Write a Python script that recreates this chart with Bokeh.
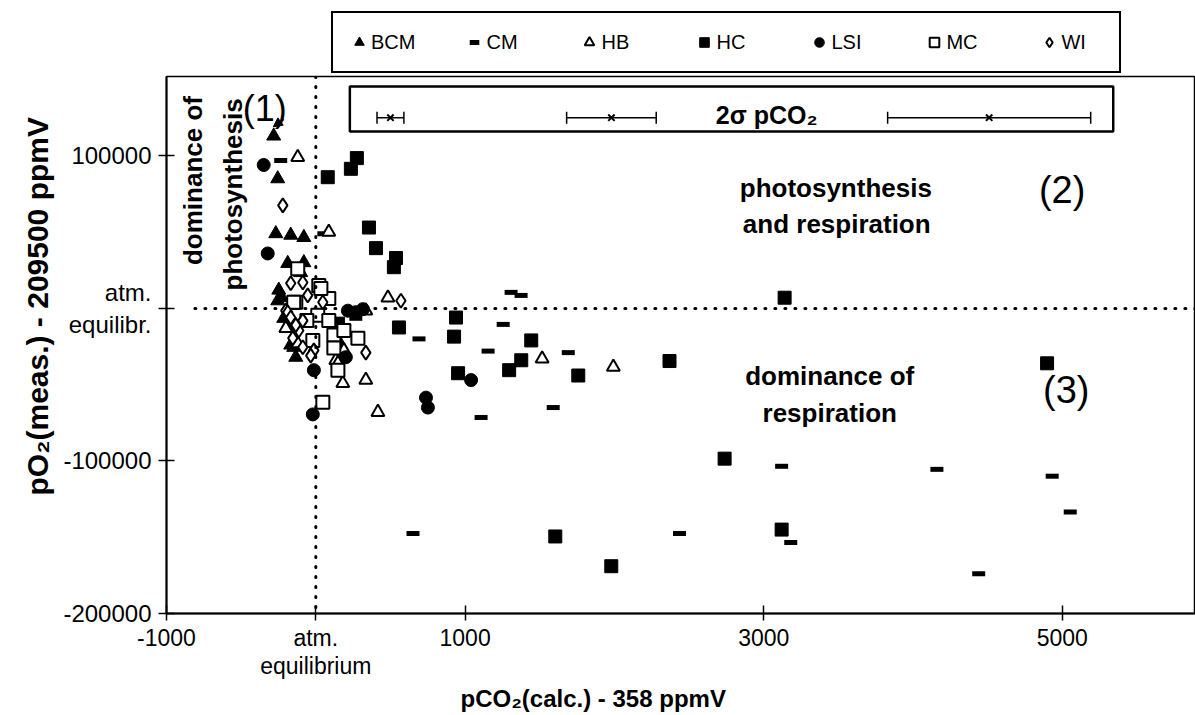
import math
from bokeh.plotting import figure
from bokeh.layouts import column
from bokeh.models import (ColumnDataSource, Legend, LegendItem, Label, Span, BoxAnnotation,
                          Whisker, TeeHead, Arrow, NormalHead, FixedTicker, Title)
from bokeh.embed import file_html
from bokeh.resources import INLINE

# ---------------- data ----------------
bcm_x = [-282, -255, -268, -168, -80, -188, -80, -248, -255, -228, -188, -148, -134, -168, -215, -101, 168]
bcm_y = [113000, 85000, 49000, 48000, 46500, 29500, 30000, 12000, 5000, 7000, -12500, -25500, -32000, -24000, -6500, 23500, -24000]

cm_x = [-235, 54, 268, 691, 1308, 1375, 1255, 1154, 1691, 1107, 1590, 651, 2436, 3120, 3181, 4160, 4440, 4932, 5053]
cm_y = [97000, 49000, -6500, -20000, 10500, 8500, -10500, -28000, -29000, -71500, -65000, -147500, -147500, -103500, -153500, -105500, -174000, -110000, -133500]

hb_x = [-121, 87, 483, 335, 188, 134, 181, 335, 416, 1516, 1993, -201, -121, 148]
hb_y = [99000, 50000, 7000, -1500, -27500, -34000, -49000, -47000, -68000, -33000, -38500, -13000, -23000, -36000]

hc_x = [80, 235, 275, 356, 403, 537, 523, 557, 939, 926, 953, 1443, 1376, 1295, 1758, 2369, 3140, 4898, 2738, 1604, 3120, 1979, 148]
hc_y = [86000, 91500, 98500, 53000, 39500, 33000, 27000, -12500, -6000, -18500, -42500, -21000, -34000, -40500, -44000, -34500, 7000, -36000, -98500, -149500, -145000, -169000, -10000]

lsi_x = [-349, -322, 215, 268, 315, -13, -20, 738, 751, 1040, 201]
lsi_y = [94000, 36000, -1500, -2500, -500, -40500, -69500, -58500, -65000, -47000, -32000]

mc_x = [-121, -134, 20, 87, 34, 13, 87, 121, 188, 282, 121, 148, 47, -148, -60, -20]
mc_y = [26000, 4000, 15000, 6500, 13000, -4500, -8000, -17500, -14500, -19500, -26000, -40500, -61500, 4000, -8000, -21000]

wi_x = [-221, 570, -168, -87, 47, -201, -188, -168, -87, -154, -13, -87, -34, 335, -114, -54, -134]
wi_y = [67500, 5000, 16500, 17000, 4000, -1500, -2500, -6000, -8000, -19500, -27500, -25500, -31000, -29000, -14500, 8500, -11000]

series_names = ["BCM", "CM", "HB", "HC", "LSI", "MC", "WI"]

# 2 sigma pCO2 error examples
sigma_center = [500, 1980, 4510]
sigma_2 = [90, 300, 680]

x_ticks = [-1000, 0, 1000, 3000, 5000]
x_tick_labels = ["-1000", "atm.\nequilibrium", "1000", "3000", "5000"]
y_ticks = [100000, 0, -100000, -200000]
y_tick_labels = ["100000", "atm.\nequilibr.", "-100000", "-200000"]

FONT = "Liberation Sans"

STYLES = {
    "BCM": dict(marker="triangle", size=14, fill_color="black", line_color="black"),
    "CM": dict(marker="dash", size=13, line_color="black", line_width=5),
    "HB": dict(marker="triangle", size=13, fill_color="white", line_color="black", line_width=2),
    "HC": dict(marker="square", size=13, fill_color="black", line_color="black"),
    "LSI": dict(marker="circle", size=13, fill_color="black", line_color="black"),
    "MC": dict(marker="square", size=13, fill_color="white", line_color="black", line_width=2),
    "WI": dict(marker="diamond", size=14, fill_color="white", line_color="black", line_width=2),
}
DATA = {"BCM": (bcm_x, bcm_y), "CM": (cm_x, cm_y), "HB": (hb_x, hb_y), "HC": (hc_x, hc_y),
        "LSI": (lsi_x, lsi_y), "MC": (mc_x, mc_y), "WI": (wi_x, wi_y)}

# ---------------- main figure ----------------
p = figure(width=1195, height=640, x_range=(-1000, 5892), y_range=(-200000, 152000),
           output_backend="svg", toolbar_location=None,
           min_border_left=166, min_border_right=0, min_border_top=1, min_border_bottom=102)
p.background_fill_color = "white"
p.border_fill_color = "white"
p.xgrid.visible = False
p.ygrid.visible = False
p.outline_line_color = "black"
p.outline_line_width = 1.5

for ax in (p.xaxis[0], p.yaxis[0]):
    ax.axis_line_width = 2
    ax.axis_line_color = "black"
    ax.major_tick_line_color = "black"
    ax.major_tick_line_width = 1.5
    ax.major_tick_in = 8
    ax.major_tick_out = 8
    ax.minor_tick_line_color = None
    ax.major_label_text_font = FONT
    ax.major_label_text_font_size = "24px"
    ax.major_label_text_color = "black"
    ax.major_label_standoff = 7

p.xaxis[0].major_label_text_font_size = "23px"
p.xaxis[0].major_label_standoff = 4
p.xaxis[0].major_tick_out = 7
p.xaxis[0].major_label_text_line_height = 1.1

p.xaxis[0].ticker = FixedTicker(ticks=x_ticks)
p.yaxis[0].ticker = FixedTicker(ticks=y_ticks)
p.xaxis[0].major_label_overrides = dict(zip(x_ticks, x_tick_labels))
p.yaxis[0].major_label_overrides = dict(zip(y_ticks, y_tick_labels))

# axis titles
p.add_layout(Title(text="pO₂(meas.) - 209500 ppmV", align="left", offset=118, standoff=14,
                   text_font=FONT, text_font_style="bold", text_font_size="30px",
                   text_color="black"), "left")
p.add_layout(Title(text="pCO₂(calc.) - 358 ppmV", align="left", offset=294, standoff=0,
                   text_font=FONT, text_font_style="bold", text_font_size="24px",
                   text_color="black"), "below")

# dotted reference lines at atmospheric equilibrium
ATM_X = 0
ATM_Y = 0
p.add_layout(Span(location=ATM_X, dimension="height", line_color="black", line_width=3,
                  line_dash="1 9", line_cap="round"))
p.segment(x0=[-810], y0=[ATM_Y], x1=[5892], y1=[ATM_Y], line_color="black", line_width=3,
          line_dash="1 9", line_cap="round")

# ---------------- series ----------------
for name in series_names:
    xs, ys = DATA[name]
    p.scatter(xs, ys, **STYLES[name])

# ---------------- 2 sigma box ----------------
p.add_layout(BoxAnnotation(left=228, right=5341, bottom=115900, top=145400, fill_color="white",
                           fill_alpha=1, line_color="black", line_alpha=1, line_width=2.5,
                           level="underlay"))
SIG_Y = 125000
sig_src = ColumnDataSource(dict(
    base=[SIG_Y] * len(sigma_center),
    x=sigma_center,
    lower=[c - e for c, e in zip(sigma_center, sigma_2)],
    upper=[c + e for c, e in zip(sigma_center, sigma_2)],
))
p.add_layout(Whisker(source=sig_src, base="base", lower="lower", upper="upper", dimension="width",
                     line_color="black", line_width=1.5, level="overlay",
                     lower_head=TeeHead(size=12, line_width=1.5, line_color="black"),
                     upper_head=TeeHead(size=12, line_width=1.5, line_color="black")))
p.scatter(x="x", y="base", source=sig_src, marker="x", size=9, line_color="black", line_width=2)

# ---------------- annotations in the plot ----------------
def lab(x, y, text, size, bold=True, angle=0.0):
    p.add_layout(Label(x=x, y=y, text=text, text_font=FONT,
                       text_font_style="bold" if bold else "normal", text_font_size=size,
                       text_align="center", text_baseline="middle", angle=angle,
                       text_color="black"))

lab(3020, 127000, "2σ pCO₂", "25px")
lab(-825, 83800, "dominance of", "26px", angle=math.pi / 2)
lab(-557, 74700, "photosynthesis", "26px", angle=math.pi / 2)
lab(-342, 131000, "(1)", "36px", bold=False)
p.add_layout(Arrow(x_start=-215, y_start=124000, x_end=-285, y_end=119000, line_width=2,
                   line_color="black", end=NormalHead(size=9, fill_color="black", line_color="black")))
lab(3483, 78600, "photosynthesis", "26px")
lab(3489, 55000, "and respiration", "26px")
lab(4999, 77300, "(2)", "38px", bold=False)
lab(3442, -44500, "dominance of", "26px")
lab(3442, -68800, "respiration", "26px")
lab(5026, -53700, "(3)", "38px", bold=False)

# ---------------- legend strip above the plot ----------------
leg = figure(width=1195, height=75, x_range=(0, 1), y_range=(0, 1), output_backend="svg",
             toolbar_location=None, min_border=0)
leg.axis.visible = False
leg.xgrid.visible = False
leg.ygrid.visible = False
leg.outline_line_color = None
leg.background_fill_color = "white"
leg.border_fill_color = "white"
items = []
for name in series_names:
    r = leg.scatter([-5], [-5], **STYLES[name])   # key glyphs only (outside view)
    items.append(LegendItem(label=name, renderers=[r]))
legend = Legend(items=items, orientation="horizontal", location=(165, 2), glyph_width=24,
                glyph_height=30, label_standoff=0, label_width=44, spacing=47, padding=14, margin=0,
                border_line_color="black", border_line_width=2, border_line_alpha=1,
                background_fill_color="white", background_fill_alpha=1, label_text_font=FONT,
                label_text_font_size="20px", label_text_color="black")
leg.add_layout(legend)

layout = column(leg, p, spacing=0)
open("out.html", "w").write(file_html(layout, INLINE))
